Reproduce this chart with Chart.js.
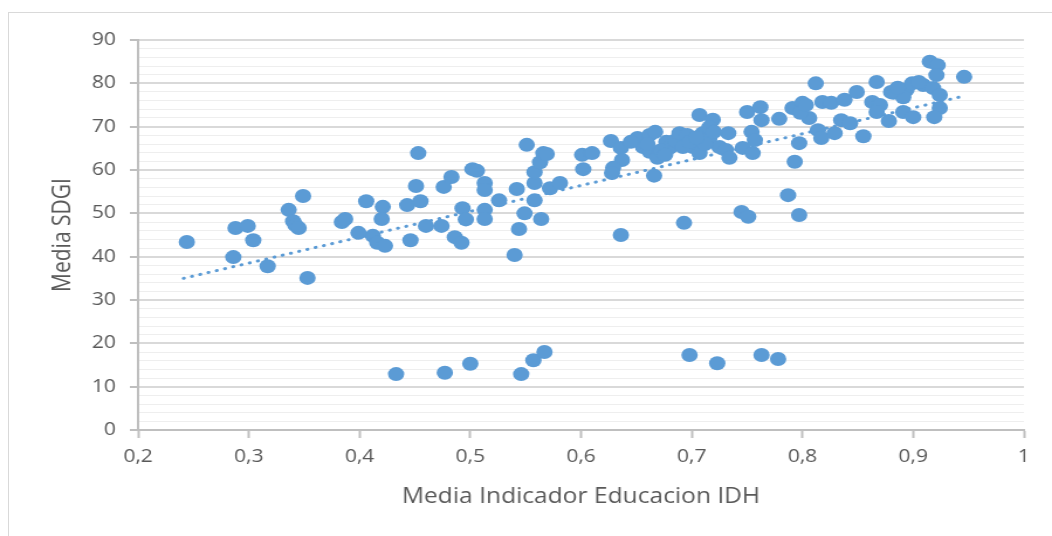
<!DOCTYPE html>
<html>
<head>
<meta charset="utf-8">
<script src="https://cdn.jsdelivr.net/npm/chart.js@4.4.1/dist/chart.umd.min.js"></script>
<style>
  html, body { margin: 0; padding: 0; background: #fff; }
  #wrap { position: relative; width: 1052px; height: 536px; overflow: hidden; }
  #marco { position: absolute; left: 8px; top: 12px; width: 1100px; height: 600px; border: 1px solid #d9d9d9; }
  /* el grafico original esta estirado en horizontal */
  #grafico { position: absolute; left: 0; top: 0; transform: scaleX(1.1702); transform-origin: 0 0; }
</style>
</head>
<body>
<div id="wrap">
  <div id="marco"></div>
  <canvas id="grafico" width="899" height="536"></canvas>
</div>
<script>
// === Datos ===
const educacionIDH = [
  0.244, 0.286, 0.288, 0.299, 0.304, 0.317, 0.336, 0.340, 0.342, 0.345, 0.349, 0.353,
  0.384, 0.387, 0.399, 0.406, 0.412, 0.416, 0.423, 0.421, 0.420, 0.443, 0.446, 0.451,
  0.453, 0.455, 0.460, 0.474, 0.476, 0.483,
  0.486, 0.492, 0.493, 0.496, 0.502, 0.506, 0.513, 0.513, 0.513, 0.513, 0.526, 0.540,
  0.542, 0.544, 0.549, 0.551, 0.558, 0.558, 0.558, 0.563, 0.564, 0.566, 0.569, 0.572, 0.581,
  0.601, 0.610, 0.602, 0.627, 0.636, 0.637, 0.629, 0.628, 0.636, 0.666, 0.693,
  0.651, 0.662, 0.667, 0.656, 0.662, 0.669, 0.677, 0.680, 0.645, 0.672, 0.685,
  0.689, 0.696, 0.692, 0.701, 0.707, 0.710, 0.716, 0.707, 0.719, 0.716, 0.725, 0.731,
  0.734, 0.733, 0.698, 0.712, 0.720, 0.704, 0.660, 0.676,
  0.750, 0.762, 0.763, 0.779, 0.754, 0.757, 0.746, 0.755, 0.797, 0.793, 0.791, 0.800,
  0.806, 0.798, 0.812, 0.814, 0.787, 0.797, 0.745, 0.751,
  0.803, 0.818, 0.826, 0.838, 0.849, 0.867, 0.863, 0.870, 0.867, 0.835, 0.843, 0.817,
  0.829, 0.855, 0.878, 0.882, 0.894, 0.899, 0.891, 0.909, 0.918, 0.891, 0.900, 0.915,
  0.922, 0.921, 0.946, 0.924, 0.924, 0.919, 0.905, 0.880, 0.886,
  0.433, 0.477, 0.500, 0.546, 0.557, 0.567, 0.698, 0.723, 0.763, 0.778
];
const mediaSDGI = [
  43.4, 39.9, 46.6, 47.1, 43.8, 37.8, 50.8, 48.2, 47.3, 46.6, 54.0, 35.1,
  48.0, 48.7, 45.5, 52.8, 44.8, 43.2, 42.5, 51.5, 48.7, 51.9, 43.8, 56.3,
  63.9, 52.8, 47.1, 47.1, 56.1, 58.4,
  44.5, 43.2, 51.2, 48.6, 60.2, 59.8, 57.0, 55.4, 50.8, 48.7, 53.0, 40.4,
  55.6, 46.4, 50.0, 65.8, 57.0, 59.5, 53.0, 61.8, 48.7, 63.9, 63.7, 55.8, 57.0,
  63.5, 63.9, 60.2, 66.7, 65.1, 62.3, 60.5, 59.3, 45.0, 58.7, 47.8,
  67.4, 68.1, 68.8, 65.3, 64.2, 62.8, 66.5, 65.1, 66.5, 64.5, 66.8,
  68.5, 68.1, 65.3, 65.3, 63.9, 68.5, 67.4, 72.7, 71.6, 69.9, 65.3, 64.6,
  62.8, 68.5, 66.5, 66.0, 68.8, 67.5, 66.0, 63.5,
  73.4, 74.5, 71.5, 71.8, 68.8, 66.9, 65.1, 63.9, 66.2, 61.9, 74.3, 75.5,
  72.0, 73.2, 80.0, 69.2, 54.2, 49.6, 50.3, 49.2,
  75.0, 75.7, 75.5, 76.2, 78.0, 80.3, 75.7, 75.0, 73.4, 71.5, 70.8, 67.4,
  68.5, 67.8, 71.3, 77.8, 78.5, 80.0, 76.8, 79.6, 78.9, 73.4, 72.2, 85.0,
  84.2, 81.9, 81.5, 77.3, 74.3, 72.2, 80.3, 78.0, 79.0,
  12.9, 13.2, 15.3, 12.9, 16.1, 18.0, 17.3, 15.4, 17.3, 16.4
];

// linea de tendencia (extremos)
const tendenciaX = [0.241, 0.943];
const tendenciaY = [35.0, 76.9];

const etiquetasX = ["0,2", "0,3", "0,4", "0,5", "0,6", "0,7", "0,8", "0,9", "1"];
const etiquetasY = [0, 10, 20, 30, 40, 50, 60, 70, 80, 90];

const AZUL = "#5b9bd5";
const GRIS_TEXTO = "#595959";
const FUENTE = "'Open Sans', sans-serif";

const puntos = educacionIDH.map((x, i) => ({ x: x, y: mediaSDGI[i] }));
const tendencia = tendenciaX.map((x, i) => ({ x: x, y: tendenciaY[i] }));

new Chart(document.getElementById("grafico"), {
  type: "scatter",
  data: {
    datasets: [
      {
        label: "Media SDGI",
        data: puntos,
        backgroundColor: AZUL,
        borderColor: AZUL,
        borderWidth: 0,
        pointRadius: 7,
        pointHoverRadius: 7
      },
      {
        label: "Tendencia",
        data: tendencia,
        showLine: true,
        borderColor: AZUL,
        borderWidth: 3,
        borderCapStyle: "round",
        borderDash: [0.5, 6.8],
        pointRadius: 0,
        fill: false
      }
    ]
  },
  options: {
    responsive: false,
    animation: false,
    devicePixelRatio: 1,
    layout: { padding: { left: 0, right: 24, top: 40, bottom: 0 } },
    plugins: {
      legend: { display: false },
      tooltip: { enabled: false }
    },
    scales: {
      x: {
        type: "linear",
        min: 0.2,
        max: 1,
        ticks: {
          stepSize: 0.1,
          callback: (v, i) => etiquetasX[i] ?? String(v).replace(".", ","),
          color: GRIS_TEXTO,
          font: { family: FUENTE, size: 18 },
          padding: 8,
          maxRotation: 0
        },
        grid: { drawOnChartArea: false, drawTicks: true, tickLength: 8, tickColor: "#bfbfbf", tickWidth: 2 },
        border: { color: "#bfbfbf", width: 2 },
        title: {
          display: true,
          text: "Media Indicador Educacion IDH",
          color: GRIS_TEXTO,
          font: { family: FUENTE, size: 21 },
          padding: { top: 0, bottom: 26 }
        },
        afterFit: (s) => { s.height = 106; }
      },
      y: {
        min: 0,
        max: 90,
        ticks: {
          stepSize: 2,
          maxTicksLimit: 100,
          autoSkip: false,
          callback: (v) => etiquetasY.includes(v) ? String(v) : "",
          color: GRIS_TEXTO,
          font: { family: FUENTE, size: 18 },
          padding: 12
        },
        grid: {
          color: (c) => etiquetasY.includes(c.tick.value) ? "#d9d9d9" : "#eeeeee",
          lineWidth: (c) => etiquetasY.includes(c.tick.value) ? 2 : 1,
          tickColor: (c) => etiquetasY.includes(c.tick.value) ? "#bfbfbf" : "rgba(0,0,0,0)",
          tickLength: 7,
          tickWidth: 2
        },
        border: { color: "#bfbfbf", width: 2 },
        title: {
          display: true,
          text: "Media SDGI",
          color: GRIS_TEXTO,
          font: { family: FUENTE, size: 21 },
          padding: { top: 41, bottom: 0 }
        },
        afterFit: (s) => { s.width = 118; }
      }
    }
  }
});
</script>
</body>
</html>
